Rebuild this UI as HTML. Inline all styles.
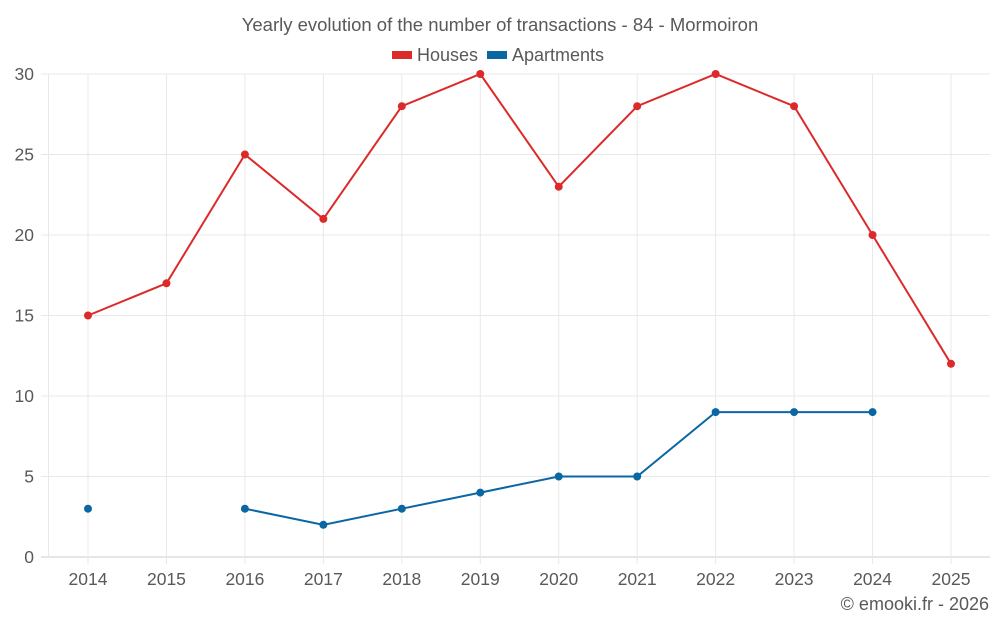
<!DOCTYPE html>
<html><head><meta charset="utf-8"><style>
body{margin:0;background:#fff;font-family:"Liberation Sans",sans-serif}
</style></head><body>
<svg width="1000" height="625" xmlns="http://www.w3.org/2000/svg">
<text x="500" y="31" text-anchor="middle" font-size="18.5" fill="#595959">Yearly evolution of the number of transactions - 84 - Mormoiron</text>
<g>
<g><rect x="392" y="51" width="20" height="8" fill="#dc2a2a"/><text x="417" y="61" font-size="18" fill="#595959">Houses</text></g>
<g><rect x="487" y="51" width="20" height="8" fill="#0a67a3"/><text x="512" y="61" font-size="18" fill="#595959">Apartments</text></g>
</g>
<g id="grid"></g>
<g id="marks"></g>
<text x="989" y="610" text-anchor="end" font-size="18" fill="#595959">© emooki.fr - 2026</text>
</svg>
<script>
const years=["2014","2015","2016","2017","2018","2019","2020","2021","2022","2023","2024","2025"];
const houses=[15,17,25,21,28,30,23,28,30,28,20,12];
const apartments=[3,null,3,2,3,4,5,5,9,9,9,null];
const yTicks=[0,5,10,15,20,25,30];
const NS="http://www.w3.org/2000/svg";
const L=48,R=990,T=74,B=557,ymax=30;
const x=i=>88+i*(951-88)/(years.length-1);
const y=v=>B-(v/ymax)*(B-T);
const g=document.getElementById('grid'),m=document.getElementById('marks');
function mk(tag,a,p){const e=document.createElementNS(NS,tag);for(const k in a)e.setAttribute(k,a[k]);p.appendChild(e);return e;}
yTicks.forEach(v=>{
 const l=mk('line',{x1:41,x2:R,y1:y(v),y2:y(v),stroke:v===0?'#ccc':'#e8e8e8'},g);
 
 
 const t=mk('text',{x:34,y:y(v)+6,'text-anchor':'end','font-size':17.5,fill:'#595959'},g);t.textContent=v;
 
 
});
mk('line',{x1:L+.5,x2:L+.5,y1:T,y2:B,stroke:'#e8e8e8'},g);
years.forEach((yr,i)=>{
 const l=mk('line',{x1:x(i),x2:x(i),y1:T,y2:B+7,stroke:'#e8e8e8'},g);
 
 
 const t=mk('text',{x:x(i),y:585,'text-anchor':'middle','font-size':17.5,fill:'#595959'},g);t.textContent=yr;
 
 
});
function series(data,color,name){
 let d='',pen=false;
 data.forEach((v,i)=>{if(v==null){pen=false;return;}d+=(pen?'L':'M')+x(i)+','+y(v)+' ';pen=true;});
 const p=mk('path',{d:d,fill:'none',stroke:color,'stroke-width':2},m);
 
 
 data.forEach((v,i)=>{if(v==null)return;
  const c=mk('circle',{cx:x(i),cy:y(v),r:4,fill:color},m);
  
  
 });
}
series(houses,'#dc2a2a','houses');
series(apartments,'#0a67a3','apartments');
</script>
</body></html>
